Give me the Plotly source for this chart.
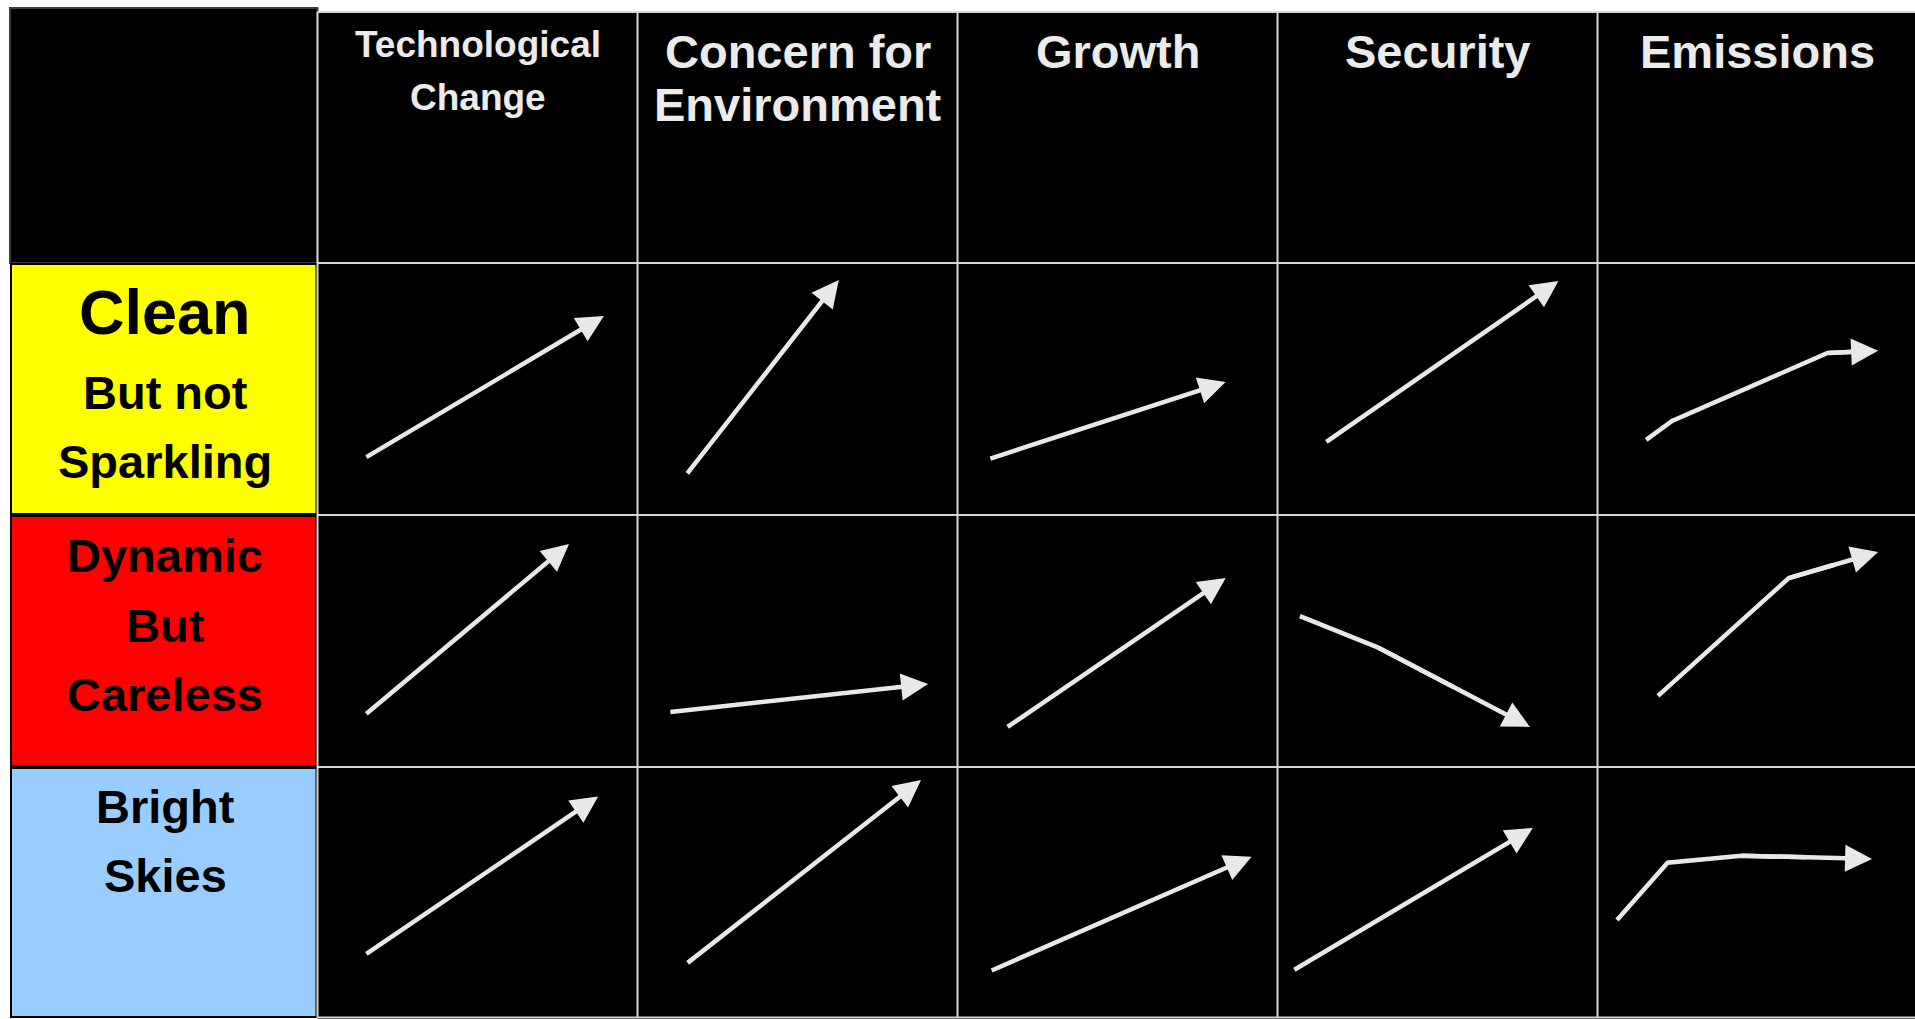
import plotly.graph_objects as go

# ---------------- data ----------------
drivers = [["Technological", "Change"], ["Concern for", "Environment"], ["Growth"], ["Security"], ["Emissions"]]
scenarios = [["Clean", "But not", "Sparkling"], ["Dynamic", "But", "Careless"], ["Bright", "Skies"]]

# arrow paths inside each cell, one list per driver (fractions of the cell: 0 = left/top, 1 = right/bottom)
clean_x = [[0.148, 0.895], [0.152, 0.629], [0.098, 0.838], [0.148, 0.878], [0.152, 0.233, 0.719, 0.877]]
clean_y = [[0.774, 0.210], [0.841, 0.067], [0.778, 0.472], [0.714, 0.071], [0.702, 0.627, 0.357, 0.348]]
dynamic_x = [[0.148, 0.786], [0.098, 0.908], [0.152, 0.838], [0.070, 0.311, 0.789], [0.189, 0.598, 0.877]]
dynamic_y = [[0.794, 0.115], [0.782, 0.671], [0.845, 0.250], [0.401, 0.524, 0.841], [0.718, 0.250, 0.147]]
bright_x = [[0.148, 0.877], [0.152, 0.886], [0.102, 0.919], [0.048, 0.798], [0.061, 0.219, 0.450, 0.858]]
bright_y = [[0.746, 0.117], [0.782, 0.052], [0.810, 0.356], [0.808, 0.242], [0.607, 0.380, 0.352, 0.365]]

paths_x = [clean_x, dynamic_x, bright_x]
paths_y = [clean_y, dynamic_y, bright_y]

# ---------------- styles / layout ----------------
W, H = 1915, 1019
CW, RH = 320.0, 252.0          # cell size in px
GX0, GY0 = 317.5, 263.0        # top-left of the data grid in px
FONT = "Liberation Sans, Arial, Helvetica, sans-serif"
ROW_COLORS = ["#FFFF00", "#FF0000", "#99CCFF"]
ARROW = "#e8e8e8"
GRID = "#d6d6d6"
HEAD_TXT = "#ebebeb"
LW = 4.5


def ux(px):
    return (px - GX0) / CW


def uy(py):
    return (py - GY0) / RH


x_min, x_max = ux(0), ux(W)
y_top, y_bot = uy(0), uy(H)

shapes = []
# top-left empty header cell
shapes.append(dict(type="rect", xref="x", yref="y", x0=ux(10), x1=0, y0=uy(8), y1=0,
                   fillcolor="black", line=dict(color="#3c3c3c", width=2), layer="below"))
# main black grid area
shapes.append(dict(type="rect", xref="x", yref="y", x0=0, x1=x_max + 0.05, y0=uy(12), y1=y_bot + 0.05,
                   fillcolor="black", line=dict(width=0), layer="below"))
# label column background (black borders)
shapes.append(dict(type="rect", xref="x", yref="y", x0=ux(10), x1=0, y0=0, y1=uy(1018),
                   fillcolor="black", line=dict(width=0), layer="below"))
for i, c in enumerate(ROW_COLORS):
    shapes.append(dict(type="rect", xref="x", yref="y", x0=ux(12), x1=ux(GX0 - 2),
                       y0=i + 2 / RH, y1=min(i + 1 - 2 / RH, uy(1016)),
                       fillcolor=c, line=dict(width=0), layer="below"))
# grid lines
for j in range(len(drivers)):
    shapes.append(dict(type="line", xref="x", yref="y", x0=j, x1=j, y0=uy(12), y1=uy(1018),
                       line=dict(color=GRID, width=2), layer="below"))
for yy in [uy(12), 0, 1, 2, uy(1017.5)]:
    shapes.append(dict(type="line", xref="x", yref="y", x0=0, x1=x_max + 0.05, y0=yy, y1=yy,
                       line=dict(color=GRID, width=2), layer="below"))

fig = go.Figure()
annotations = []

# arrows
for i in range(len(scenarios)):
    for j in range(len(drivers)):
        xs = [j + v for v in paths_x[i][j]]
        ys = [i + v for v in paths_y[i][j]]
        if len(xs) > 2:
            # polyline up to the last bend, continued half way into the final segment for a clean joint
            lx = xs[:-1] + [(xs[-2] + xs[-1]) / 2]
            ly = ys[:-1] + [(ys[-2] + ys[-1]) / 2]
            fig.add_trace(go.Scatter(x=lx, y=ly, mode="lines",
                                     line=dict(color=ARROW, width=LW), hoverinfo="skip",
                                     showlegend=False))
        annotations.append(dict(x=xs[-1], y=ys[-1], ax=xs[-2], ay=ys[-2], xref="x", yref="y",
                                axref="x", ayref="y", text="", showarrow=True,
                                arrowhead=2, arrowsize=1.2, arrowwidth=LW, arrowcolor=ARROW,
                                standoff=0))

# header labels
head_first = [44, 51, 51, 51, 51]
head_size = [37, 47, 47, 47, 47]
for j, lines in enumerate(drivers):
    for k, t in enumerate(lines):
        annotations.append(dict(x=j + 0.5, y=uy(head_first[j] + 53 * k), xref="x", yref="y",
                                text="<b>%s</b>" % t, showarrow=False, xanchor="center", yanchor="middle",
                                font=dict(family=FONT, size=head_size[j], color=HEAD_TXT)))

# row labels
label_pos = [[49, 129, 198.5], [40.5, 110, 179.5], [39.5, 108]]
label_size = [[63, 47, 47], [47, 47, 47], [47, 47]]
for i, lines in enumerate(scenarios):
    for k, t in enumerate(lines):
        annotations.append(dict(x=ux(165), y=i + label_pos[i][k] / RH, xref="x", yref="y",
                                text="<b>%s</b>" % t, showarrow=False, xanchor="center", yanchor="middle",
                                font=dict(family=FONT, size=label_size[i][k], color="black")))

fig.update_layout(
    width=W, height=H, margin=dict(l=0, r=0, t=0, b=0),
    paper_bgcolor="white", plot_bgcolor="white",
    xaxis=dict(range=[x_min, x_max], visible=False, fixedrange=True),
    yaxis=dict(range=[y_bot, y_top], visible=False, fixedrange=True),
    shapes=shapes, annotations=annotations, showlegend=False,
)

fig.write_html("out.html", config={"displayModeBar": False},
               post_script="document.body.style.margin='0';document.body.style.overflow='hidden';")
